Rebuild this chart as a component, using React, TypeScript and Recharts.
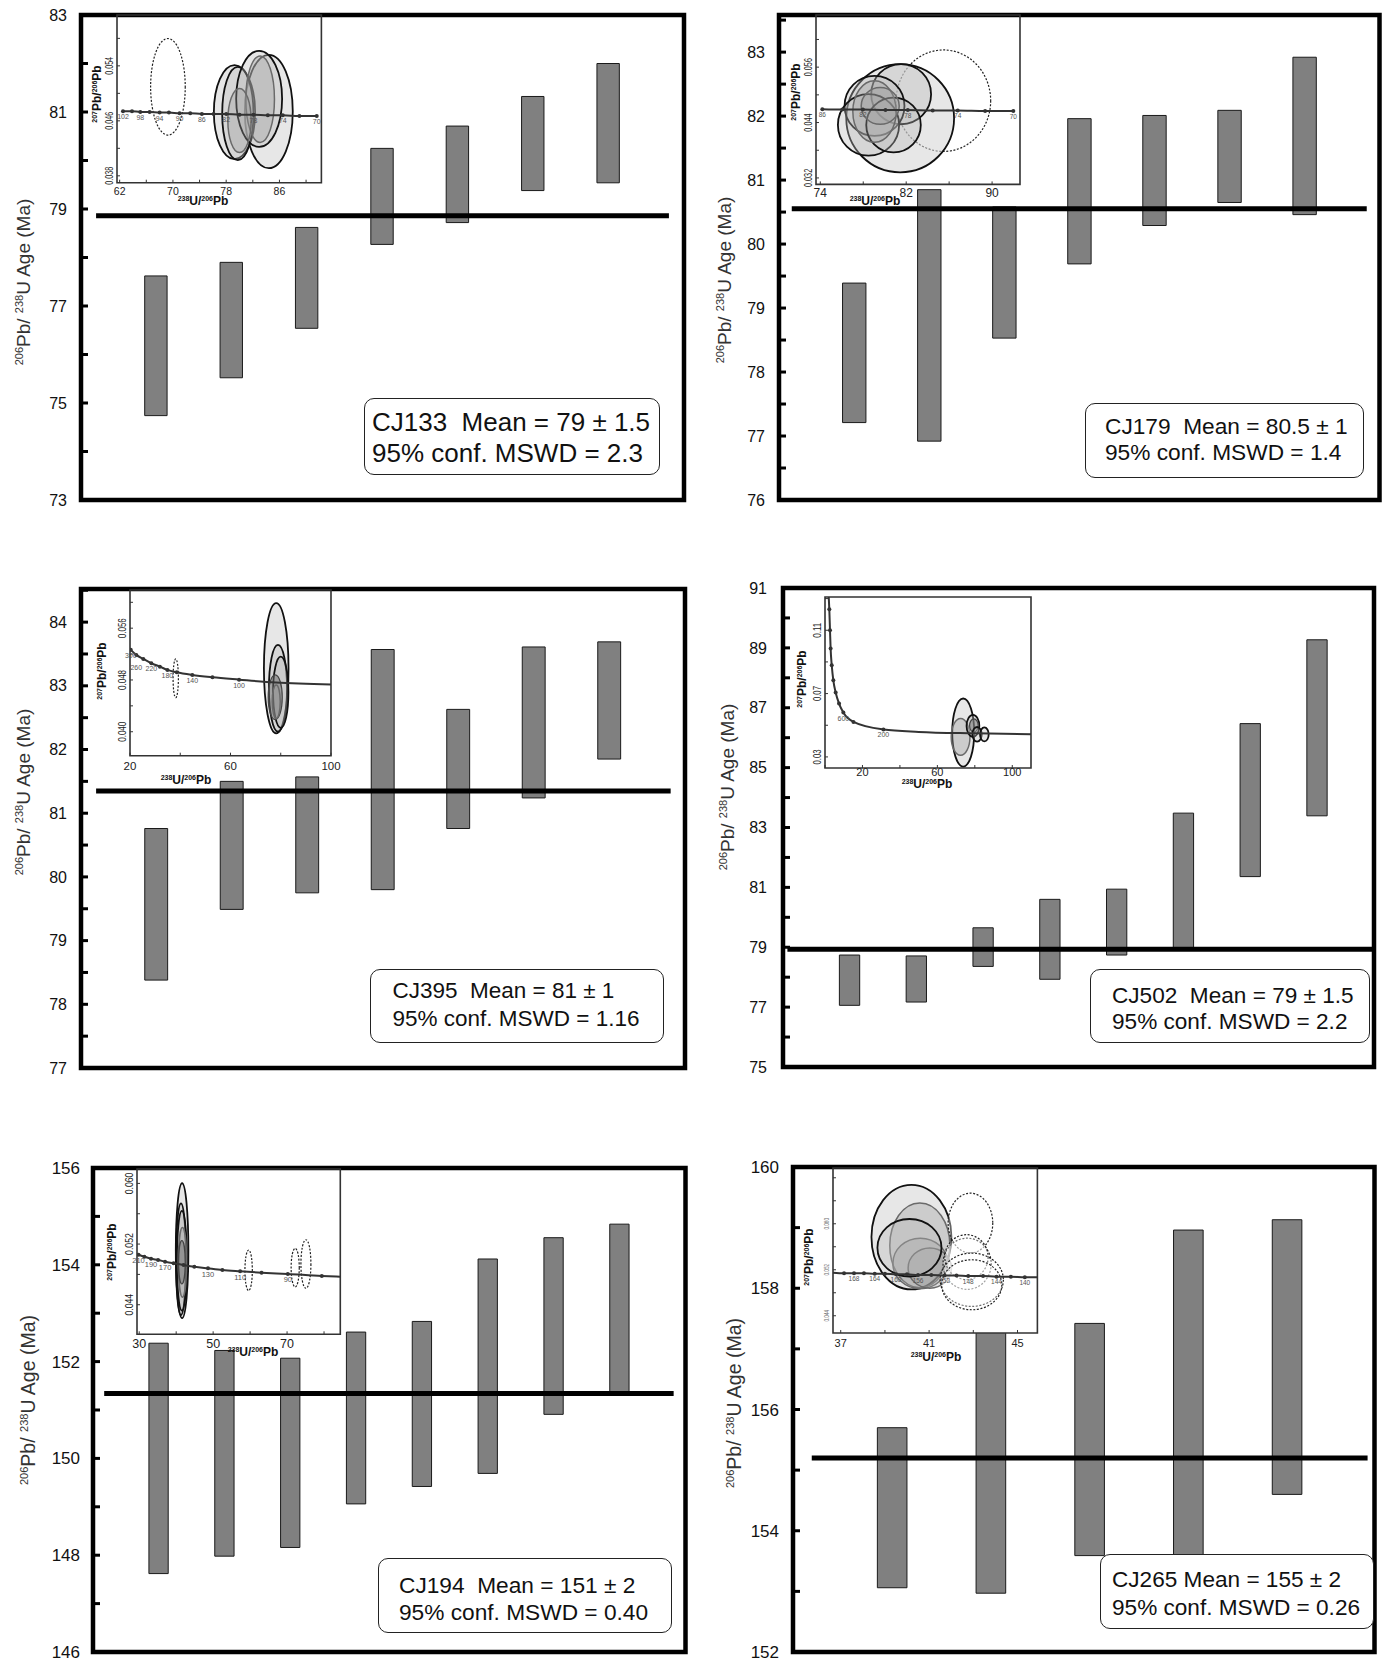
import React from 'react';
import {
  ComposedChart,
  Bar,
  Line,
  XAxis,
  YAxis,
  ReferenceLine,
  ReferenceArea,
  LabelList,
} from 'recharts';

const FONT = '"Liberation Sans", Arial, Helvetica, sans-serif';

// ---------- CJ133 ----------
const CJ133_LOW = [74.74, 75.52, 76.54, 78.27, 78.72, 79.38, 79.54];
const CJ133_HIGH = [77.62, 77.9, 78.62, 80.25, 80.71, 81.32, 82.0];
const CJ133_MEAN = 78.86;
const CJ133_TICKS = [73, 74, 75, 76, 77, 78, 79, 80, 81, 82, 83];
const CJ133_TICK_LABELS = ['73', '', '75', '', '77', '', '79', '', '81', '', '83'];
const CJ133_TEXT = ['CJ133  Mean = 79 ± 1.5', '95% conf. MSWD = 2.3'];

// ---------- CJ179 ----------
const CJ179_LOW = [77.21, 76.92, 78.53, 79.69, 80.29, 80.65, 80.46];
const CJ179_HIGH = [79.39, 80.85, 80.58, 81.96, 82.01, 82.09, 82.92];
const CJ179_MEAN = 80.55;
const CJ179_TICKS = [76, 76.5, 77, 77.5, 78, 78.5, 79, 79.5, 80, 80.5, 81, 81.5, 82, 82.5, 83, 83.5];
const CJ179_TICK_LABELS = ['76', '', '77', '', '78', '', '79', '', '80', '', '81', '', '82', '', '83', ''];
const CJ179_TEXT = ['CJ179  Mean = 80.5 ± 1', '95% conf. MSWD = 1.4'];

// ---------- CJ395 ----------
const CJ395_LOW = [78.38, 79.49, 79.75, 79.8, 80.76, 81.24, 81.85];
const CJ395_HIGH = [80.76, 81.5, 81.57, 83.57, 82.63, 83.61, 83.69];
const CJ395_MEAN = 81.35;
const CJ395_TICKS = [77, 77.5, 78, 78.5, 79, 79.5, 80, 80.5, 81, 81.5, 82, 82.5, 83, 83.5, 84, 84.5];
const CJ395_TICK_LABELS = ['77', '', '78', '', '79', '', '80', '', '81', '', '82', '', '83', '', '84', ''];
const CJ395_TEXT = ['CJ395  Mean = 81 ± 1', '95% conf. MSWD = 1.16'];

// ---------- CJ502 ----------
const CJ502_LOW = [77.06, 77.17, 78.36, 77.93, 78.74, 78.96, 81.36, 83.39];
const CJ502_HIGH = [78.74, 78.71, 79.65, 80.6, 80.94, 83.48, 86.47, 89.27];
const CJ502_MEAN = 78.93;
const CJ502_TICKS = [75, 76, 77, 78, 79, 80, 81, 82, 83, 84, 85, 86, 87, 88, 89, 90, 91];
const CJ502_TICK_LABELS = ['75', '', '77', '', '79', '', '81', '', '83', '', '85', '', '87', '', '89', '', '91'];
const CJ502_TEXT = ['CJ502  Mean = 79 ± 1.5', '95% conf. MSWD = 2.2'];

// ---------- CJ194 ----------
const CJ194_LOW = [147.62, 147.98, 148.16, 149.06, 149.42, 149.69, 150.91, 151.37];
const CJ194_HIGH = [152.38, 152.23, 152.07, 152.61, 152.83, 154.12, 154.56, 154.84];
const CJ194_MEAN = 151.34;
const CJ194_TICKS = [146, 147, 148, 149, 150, 151, 152, 153, 154, 155, 156];
const CJ194_TICK_LABELS = ['146', '', '148', '', '150', '', '152', '', '154', '', '156'];
const CJ194_TEXT = ['CJ194  Mean = 151 ± 2', '95% conf. MSWD = 0.40'];

// ---------- CJ265 ----------
const CJ265_LOW = [153.06, 152.97, 153.59, 153.5, 154.6];
const CJ265_HIGH = [155.7, 158.4, 157.42, 158.96, 159.13];
const CJ265_MEAN = 155.2;
const CJ265_TICKS = [152, 153, 154, 155, 156, 157, 158, 159, 160];
const CJ265_TICK_LABELS = ['152', '', '154', '', '156', '', '158', '', '160'];
const CJ265_TEXT = ['CJ265 Mean = 155 ± 2', '95% conf. MSWD = 0.26'];

// ---------- inset concordia diagrams (238U/206Pb vs 207Pb/206Pb) ----------
// age: '' = dot without label, null = curve only (no dot)
const INS133_X = [62.5, 63.85, 65.1, 66.5, 68.0, 69.4, 71.0, 72.6, 74.35, 76.1, 78.0, 80.0, 82.1, 84.25, 86.5, 89.0, 91.6];
const INS133_Y = [0.0474, 0.0474, 0.0473, 0.0473, 0.0472, 0.0472, 0.0471, 0.0471, 0.047, 0.047, 0.047, 0.0469, 0.0469, 0.0468, 0.0468, 0.0467, 0.0467];
const INS133_AGE = ['102', '', '98', '', '94', '', '90', '', '86', '', '82', '', '78', '', '74', '', '70'];
const INS133_ELL = [
  { x: 69.25, y: 0.05095, sx: 2.6, sy: 0.00703, kind: 'dash' },
  { x: 84.4, y: 0.04736, sx: 3.6, sy: 0.00825, kind: 'light' },
  { x: 79.25, y: 0.04726, sx: 3.1, sy: 0.00684, kind: 'solid' },
  { x: 79.75, y: 0.04707, sx: 2.35, sy: 0.00679, kind: 'solid' },
  { x: 82.95, y: 0.0492, sx: 3.45, sy: 0.00698, kind: 'solid' },
  { x: 83.1, y: 0.04915, sx: 2.15, sy: 0.0063, kind: 'gray' },
  { x: 80.0, y: 0.04605, sx: 1.75, sy: 0.00466, kind: 'gray' },
];
const INS133_XTICKS = [62, 66, 70, 74, 78, 82, 86, 90];
const INS133_XLABELS = ['62', '', '70', '', '78', '', '86', ''];
const INS133_YTICKS = [0.038, 0.042, 0.046, 0.05, 0.054, 0.058];
const INS133_YLABELS = ['0.038', '', '0.046', '', '0.054', ''];

const INS179_X = [74.19, 76.05, 77.97, 80.07, 82.15, 84.47, 86.8, 89.35, 91.98];
const INS179_Y = [0.0469, 0.0468, 0.0468, 0.0467, 0.0467, 0.0466, 0.0466, 0.0465, 0.0465];
const INS179_AGE = ['86', '', '82', '', '78', '', '74', '', '70'];
const INS179_ELL = [
  { x: 85.47, y: 0.04873, sx: 4.4, sy: 0.011, kind: 'dash' },
  { x: 81.44, y: 0.04493, sx: 5.02, sy: 0.01172, kind: 'light' },
  { x: 81.53, y: 0.05014, sx: 2.79, sy: 0.00651, kind: 'solid' },
  { x: 79.05, y: 0.0476, sx: 2.79, sy: 0.00651, kind: 'solid' },
  { x: 78.49, y: 0.04348, sx: 2.85, sy: 0.00666, kind: 'solid' },
  { x: 80.82, y: 0.04348, sx: 2.54, sy: 0.00593, kind: 'solid' },
  { x: 79.05, y: 0.04639, sx: 2.02, sy: 0.00666, kind: 'gray' },
  { x: 79.58, y: 0.0476, sx: 1.77, sy: 0.00398, kind: 'gray' },
];
const INS179_XTICKS = [74, 78, 82, 86, 90];
const INS179_XLABELS = ['74', '', '82', '', '90'];
const INS179_YTICKS = [0.032, 0.038, 0.044, 0.05, 0.056, 0.062];
const INS179_YLABELS = ['0.032', '', '0.044', '', '0.056', ''];

const INS395_X = [20.3, 22.5, 25.3, 28.5, 31.9, 34.9, 38.6, 44.8, 52.8, 63.4, 78, 100];
const INS395_Y = [0.05265, 0.05187, 0.05125, 0.05058, 0.05006, 0.04955, 0.04918, 0.04877, 0.04841, 0.04805, 0.0476, 0.0473];
const INS395_AGE = ['300', '260', '', '220', '', '180', '', '140', '', '100', null, null];
const INS395_ELL = [
  { x: 38.2, y: 0.04826, sx: 1.06, sy: 0.00299, kind: 'dash' },
  { x: 78.2, y: 0.04981, sx: 4.9, sy: 0.01006, kind: 'light' },
  { x: 78.9, y: 0.04671, sx: 3.6, sy: 0.0067, kind: 'solid' },
  { x: 80.0, y: 0.0461, sx: 3.05, sy: 0.0055, kind: 'solid' },
  { x: 77.8, y: 0.04532, sx: 2.8, sy: 0.00346, kind: 'dark' },
  { x: 78.2, y: 0.04464, sx: 1.6, sy: 0.00258, kind: 'gray' },
];
const INS395_XTICKS = [20, 40, 60, 80, 100];
const INS395_XLABELS = ['20', '', '60', '', '100'];
const INS395_YTICKS = [0.04, 0.044, 0.048, 0.052, 0.056, 0.06];
const INS395_YLABELS = ['0.040', '', '0.048', '', '0.056', ''];

const INS502_X = [2.0, 2.3, 2.67, 3.0, 3.6, 4.45, 5.7, 7.5, 9.8, 15.2, 31.2, 50, 80, 110];
const INS502_Y = [0.131, 0.1232, 0.11, 0.0984, 0.0879, 0.0784, 0.0707, 0.0637, 0.058, 0.0521, 0.0473, 0.0458, 0.0449, 0.0443];
const INS502_AGE = [null, '', '', '', '', '', '', '', '600', '', '200', null, null, null];
const INS502_ELL = [
  { x: 73.8, y: 0.0454, sx: 5.87, sy: 0.0215, kind: 'light' },
  { x: 72.4, y: 0.0426, sx: 5.0, sy: 0.0116, kind: 'gray' },
  { x: 79.0, y: 0.0496, sx: 3.4, sy: 0.0069, kind: 'solid' },
  { x: 79.5, y: 0.0498, sx: 2.3, sy: 0.0042, kind: 'dark' },
  { x: 81.2, y: 0.0443, sx: 2.5, sy: 0.0046, kind: 'solid' },
  { x: 85.1, y: 0.0442, sx: 2.3, sy: 0.0044, kind: 'solid' },
];
const INS502_XTICKS = [0, 20, 40, 60, 80, 100];
const INS502_XLABELS = ['', '20', '', '60', '', '100'];
const INS502_YTICKS = [0.03, 0.05, 0.07, 0.09, 0.11, 0.13];
const INS502_YLABELS = ['0.03', '', '0.07', '', '0.11', ''];

const INS194_X = [29.8, 31.4, 33.2, 35.1, 37.0, 39.3, 42.0, 44.9, 48.6, 52.5, 57.3, 63.1, 70.2, 79.4, 84.4];
const INS194_Y = [0.05059, 0.05033, 0.05007, 0.0499, 0.04968, 0.04946, 0.04924, 0.04902, 0.0488, 0.04858, 0.04841, 0.04823, 0.04806, 0.04779, 0.0477];
const INS194_AGE = ['210', '', '190', '', '170', '', '', '', '130', '', '110', '', '90', '', null];
const INS194_ELL = [
  { x: 41.6, y: 0.05112, sx: 1.7, sy: 0.0089, kind: 'light' },
  { x: 41.3, y: 0.05, sx: 1.35, sy: 0.00737, kind: 'solid' },
  { x: 41.54, y: 0.0498, sx: 1.35, sy: 0.00657, kind: 'solid' },
  { x: 41.7, y: 0.0496, sx: 1.08, sy: 0.0046, kind: 'gray' },
  { x: 41.54, y: 0.0496, sx: 0.9, sy: 0.00285, kind: 'dark' },
  { x: 59.6, y: 0.04854, sx: 1.0, sy: 0.00267, kind: 'dash' },
  { x: 72.2, y: 0.04889, sx: 1.1, sy: 0.00254, kind: 'dash' },
  { x: 75.1, y: 0.04937, sx: 1.35, sy: 0.0032, kind: 'dash' },
];
const INS194_XTICKS = [30, 40, 50, 60, 70, 80];
const INS194_XLABELS = ['30', '', '50', '', '70', ''];
const INS194_YTICKS = [0.044, 0.048, 0.052, 0.056, 0.06];
const INS194_YLABELS = ['0.044', '', '0.052', '', '0.060'];

const INS265_X = [36.65, 37.15, 37.6, 38.05, 38.54, 39.0, 39.5, 40.0, 40.5, 41.1, 41.7, 42.24, 42.77, 43.44, 44.05, 44.7, 45.33, 45.9];
const INS265_Y = [0.0515, 0.0514, 0.0514, 0.0514, 0.0513, 0.0513, 0.0512, 0.0512, 0.0511, 0.0511, 0.051, 0.051, 0.0509, 0.0509, 0.0508, 0.0508, 0.0507, 0.0507];
const INS265_AGE = [null, '', '168', '', '164', '', '160', '', '156', '', '152', '', '148', '', '144', '', '140', null];
const INS265_ELL = [
  { x: 40.2, y: 0.05768, sx: 1.81, sy: 0.0091, kind: 'light' },
  { x: 40.58, y: 0.05623, sx: 1.36, sy: 0.00737, kind: 'gray' },
  { x: 40.6, y: 0.0531, sx: 1.24, sy: 0.0044, kind: 'gray' },
  { x: 41.03, y: 0.0523, sx: 0.98, sy: 0.0035, kind: 'gray' },
  { x: 40.11, y: 0.05583, sx: 1.45, sy: 0.005, kind: 'solid' },
  { x: 42.87, y: 0.06012, sx: 1.01, sy: 0.0052, kind: 'dash' },
  { x: 42.72, y: 0.05304, sx: 1.09, sy: 0.00446, kind: 'dash' },
  { x: 42.69, y: 0.0542, sx: 0.98, sy: 0.0039, kind: 'dash' },
  { x: 42.93, y: 0.05026, sx: 1.43, sy: 0.00464, kind: 'dash' },
  { x: 42.93, y: 0.04939, sx: 1.36, sy: 0.00435, kind: 'dash' },
];
const INS265_XTICKS = [37, 39, 41, 43, 45];
const INS265_XLABELS = ['37', '', '41', '', '45'];
const INS265_YTICKS = [0.044, 0.048, 0.052, 0.056, 0.06, 0.064, 0.068];
const INS265_YLABELS = ['0.044', '', '0.052', '', '0.060', '', ''];

const ELL_STYLE: Record<string, any> = {
  light: { fill: '#d4d4d4', fillOpacity: 0.55, stroke: '#111', strokeWidth: 1.8 },
  solid: { fill: '#b8b8b8', fillOpacity: 0.35, stroke: '#111', strokeWidth: 1.8 },
  gray: { fill: '#9a9a9a', fillOpacity: 0.35, stroke: '#6a6a6a', strokeWidth: 1.5 },
  dark: { fill: '#6e6e6e', fillOpacity: 0.5, stroke: '#444', strokeWidth: 1.2 },
  dash: { fill: '#ffffff', fillOpacity: 0.35, stroke: '#222', strokeWidth: 1.2, strokeDasharray: '2 1.6' },
};

const PANELS = [
  {
    id: 'CJ133', low: CJ133_LOW, high: CJ133_HIGH, mean: CJ133_MEAN, ticks: CJ133_TICKS, tickLabels: CJ133_TICK_LABELS, text: CJ133_TEXT,
    frame: { l: 81, r: 684, t: 15, b: 500 }, yDomain: [73, 83], xMax: 8, barW: 22.4, seg: [0.2, 7.8], tickGap: 14, tickFont: 16,
    title: { x: 22.5, y: 282, fs: 19 },
    box: { l: 364, t: 398, w: 296, h: 77, tx: 372, fs: 26, c: [422, 453] },
    inset: {
      cx: INS133_X, cy: INS133_Y, age: INS133_AGE, ell: INS133_ELL, lowIdx: [],
      xTicks: INS133_XTICKS, xLabels: INS133_XLABELS, yTicks: INS133_YTICKS, yLabels: INS133_YLABELS,
      box: { l: 117.3, t: 15.3, r: 321.7, b: 183 }, xDomain: [61.6, 92.3], yDomain: [0.037, 0.0614],
      xFont: 10.5, xMargin: 4.5, yFont: 10, yLen: 18, yFill: '#222', ageFont: 7,
      xTitle: { x: 203, y: 201 }, yTitle: { x: 96.5, y: 94 },
    },
  },
  {
    id: 'CJ179', low: CJ179_LOW, high: CJ179_HIGH, mean: CJ179_MEAN, ticks: CJ179_TICKS, tickLabels: CJ179_TICK_LABELS, text: CJ179_TEXT,
    frame: { l: 778.5, r: 1379, t: 15, b: 500 }, yDomain: [76, 83.58], xMax: 8, barW: 23.4, seg: [0.17, 7.83], tickGap: 14, tickFont: 16,
    title: { x: 724, y: 280, fs: 19 },
    box: { l: 1084.6, t: 403, w: 279.3, h: 75, tx: 1105, fs: 22.7, c: [426, 452] },
    inset: {
      cx: INS179_X, cy: INS179_Y, age: INS179_AGE, ell: INS179_ELL, lowIdx: [],
      xTicks: INS179_XTICKS, xLabels: INS179_XLABELS, yTicks: INS179_YTICKS, yLabels: INS179_YLABELS,
      box: { l: 816, t: 15.3, r: 1020, b: 184.7 }, xDomain: [73.6, 92.6], yDomain: [0.0306, 0.0673],
      xFont: 12, xMargin: 4, yFont: 10, yLen: 18.3, yFill: '#222', ageFont: 6.5,
      xTitle: { x: 875, y: 201 }, yTitle: { x: 796, y: 92 },
    },
  },
  {
    id: 'CJ395', low: CJ395_LOW, high: CJ395_HIGH, mean: CJ395_MEAN, ticks: CJ395_TICKS, tickLabels: CJ395_TICK_LABELS, text: CJ395_TEXT,
    frame: { l: 81, r: 685, t: 589, b: 1068 }, yDomain: [77, 84.52], xMax: 8, barW: 22.9, seg: [0.2, 7.81], tickGap: 14, tickFont: 16,
    title: { x: 22.5, y: 792, fs: 19 },
    box: { l: 370, t: 969, w: 294, h: 74, tx: 392.5, fs: 22.5, c: [991, 1019] },
    inset: {
      cx: INS395_X, cy: INS395_Y, age: INS395_AGE, ell: INS395_ELL, lowIdx: [1],
      xTicks: INS395_XTICKS, xLabels: INS395_XLABELS, yTicks: INS395_YTICKS, yLabels: INS395_YLABELS,
      box: { l: 130, t: 590, r: 331, b: 755.7 }, xDomain: [20, 100], yDomain: [0.0363, 0.0619],
      xFont: 11.5, xMargin: 6, yFont: 10.5, yLen: 20, yFill: '#222', ageFont: 7,
      xTitle: { x: 186, y: 780 }, yTitle: { x: 102, y: 671 },
    },
  },
  {
    id: 'CJ502', low: CJ502_LOW, high: CJ502_HIGH, mean: CJ502_MEAN, ticks: CJ502_TICKS, tickLabels: CJ502_TICK_LABELS, text: CJ502_TEXT,
    frame: { l: 782.5, r: 1373.5, t: 588, b: 1067 }, yDomain: [75, 91], xMax: 8.85, barW: 20.3, seg: [0.066, 8.85], tickGap: 16, tickFont: 16,
    title: { x: 726.5, y: 787, fs: 19 },
    box: { l: 1090, t: 969, w: 280, h: 74, tx: 1112, fs: 22.6, c: [996, 1022] },
    inset: {
      cx: INS502_X, cy: INS502_Y, age: INS502_AGE, ell: INS502_ELL, lowIdx: [],
      xTicks: INS502_XTICKS, xLabels: INS502_XLABELS, yTicks: INS502_YTICKS, yLabels: INS502_YLABELS,
      box: { l: 825, t: 596.7, r: 1031, b: 767.7 }, xDomain: [0, 110], yDomain: [0.023, 0.131],
      xFont: 11, xMargin: 0, yFont: 10.5, yLen: 15, yFill: '#222', ageFont: 7,
      xTitle: { x: 927, y: 784 }, yTitle: { x: 802, y: 679 },
    },
  },
  {
    id: 'CJ194', low: CJ194_LOW, high: CJ194_HIGH, mean: CJ194_MEAN, ticks: CJ194_TICKS, tickLabels: CJ194_TICK_LABELS, text: CJ194_TEXT,
    frame: { l: 93, r: 685.5, t: 1168, b: 1652 }, yDomain: [146, 156], xMax: 9, barW: 19.3, seg: [0.17, 8.82], tickGap: 13, tickFont: 17,
    title: { x: 29, y: 1400, fs: 19.5 },
    box: { l: 378, t: 1558, w: 294, h: 75, tx: 399, fs: 22.7, c: [1585, 1612] },
    inset: {
      cx: INS194_X, cy: INS194_Y, age: INS194_AGE, ell: INS194_ELL, lowIdx: [],
      xTicks: INS194_XTICKS, xLabels: INS194_XLABELS, yTicks: INS194_YTICKS, yLabels: INS194_YLABELS,
      box: { l: 136.7, t: 1169, r: 340, b: 1334.3 }, xDomain: [29.4, 84.4], yDomain: [0.0401, 0.0619],
      xFont: 12.5, xMargin: 5, yFont: 11, yLen: 21.7, yFill: '#222', ageFont: 7.5,
      xTitle: { x: 253, y: 1352 }, yTitle: { x: 111.5, y: 1252 },
    },
  },
  {
    id: 'CJ265', low: CJ265_LOW, high: CJ265_HIGH, mean: CJ265_MEAN, ticks: CJ265_TICKS, tickLabels: CJ265_TICK_LABELS, text: CJ265_TEXT,
    frame: { l: 792.5, r: 1374, t: 1167, b: 1652 }, yDomain: [152, 160], xMax: 5.89, barW: 29.6, seg: [0.19, 5.82], tickGap: 14, tickFont: 17,
    title: { x: 735, y: 1403, fs: 19.5 },
    box: { l: 1100, t: 1554, w: 274, h: 75, tx: 1112, fs: 22.6, c: [1580, 1608] },
    inset: {
      cx: INS265_X, cy: INS265_Y, age: INS265_AGE, ell: INS265_ELL, lowIdx: [],
      xTicks: INS265_XTICKS, xLabels: INS265_XLABELS, yTicks: INS265_YTICKS, yLabels: INS265_YLABELS,
      box: { l: 833.3, t: 1168.3, r: 1037.7, b: 1333.3 }, xDomain: [36.65, 45.9], yDomain: [0.041, 0.0697],
      xFont: 11, xMargin: 6, yFont: 6.5, yLen: 11.7, yFill: '#777', ageFont: 6.5,
      xTitle: { x: 936, y: 1357 }, yTitle: { x: 809, y: 1257 },
    },
  },
];

function labeler(ticks: number[], labels: string[]) {
  return (v: number) => {
    const i = ticks.findIndex((t) => Math.abs(t - v) < 1e-7);
    return i >= 0 ? labels[i] : '';
  };
}

function RotTick(props: any) {
  const { x, y, payload, fmtFn, lblSize, lblLen, lblFill } = props;
  const txt = fmtFn(payload.value);
  if (!txt) return null;
  return (
    <text
      x={x}
      y={y}
      transform={`rotate(-90 ${x} ${y})`}
      textAnchor="middle"
      fontSize={lblSize}
      fill={lblFill}
      fontFamily={FONT}
      textLength={lblLen}
      lengthAdjust="spacingAndGlyphs"
    >
      {txt}
    </text>
  );
}

function ellipseShape(kind: string) {
  const st = ELL_STYLE[kind];
  return (p: any) => {
    if (p == null || p.x == null || p.width == null) return <g />;
    return (
      <ellipse
        cx={p.x + p.width / 2}
        cy={p.y + p.height / 2}
        rx={Math.abs(p.width) / 2}
        ry={Math.abs(p.height) / 2}
        clipPath={p.clipPath}
        {...st}
      />
    );
  };
}

const concDot = (props: any) => {
  const { cx, cy, payload, index } = props;
  if (!payload || payload.edge || cx == null) return <g key={`d${index}`} />;
  return <circle key={`d${index}`} cx={cx} cy={cy} r={2} fill="#333" />;
};

function Sup({ children, size }: { children: React.ReactNode; size: number }) {
  return <span style={{ fontSize: size, position: 'relative', top: -size * 0.6 }}>{children}</span>;
}

function MainChart({ p }: { p: any }) {
  const YW = 70;
  const M = 14;
  const MR = 8;
  const f = p.frame;
  const w = f.r - f.l;
  const h = f.b - f.t;
  const rows = p.low.map((lo: number, i: number) => ({ x: i + 1, range: [lo, p.high[i]] }));
  return (
    <div style={{ position: 'absolute', left: f.l - YW, top: f.t - M }}>
      <ComposedChart width={w + YW + MR} height={h + 2 * M} data={rows} margin={{ top: M, right: MR, bottom: M, left: 0 }}>
        <XAxis type="number" dataKey="x" domain={[0, p.xMax]} hide allowDataOverflow />
        <YAxis
          type="number"
          domain={p.yDomain}
          ticks={p.ticks}
          interval={0}
          allowDataOverflow
          width={YW}
          axisLine={false}
          tickSize={-7}
          tickMargin={p.tickGap + 7}
          tickLine={{ stroke: '#000', strokeWidth: 3 }}
          tick={{ fontSize: p.tickFont, fill: '#111', fontFamily: FONT }}
          tickFormatter={labeler(p.ticks, p.tickLabels)}
        />
        <Bar dataKey="range" barSize={p.barW} fill="#808080" stroke="#1a1a1a" strokeWidth={1} isAnimationActive={false} />
        <ReferenceLine
          segment={[{ x: p.seg[0], y: p.mean }, { x: p.seg[1], y: p.mean }]}
          stroke="#000"
          strokeWidth={5}
          ifOverflow="visible"
        />
        <ReferenceArea
          x1={0}
          x2={p.xMax}
          y1={p.yDomain[0]}
          y2={p.yDomain[1]}
          fill="none"
          stroke="#000"
          strokeWidth={4.5}
          ifOverflow="visible"
        />
      </ComposedChart>
    </div>
  );
}

function InsetChart({ s, frameTop }: { s: any; frameTop: number }) {
  const L = 24;
  const T = 3;
  const R = 18;
  const B = 24;
  const w = s.box.r - s.box.l;
  const h = s.box.b - s.box.t;
  const rows = s.cx.map((x: number, i: number) => {
    const lbl = s.age[i] == null ? '' : s.age[i];
    const low = s.lowIdx.includes(i);
    return {
      x,
      y: s.cy[i],
      age: low ? '' : lbl,
      ageLow: low ? lbl : '',
      edge: s.age[i] === null,
    };
  });
  const bgTop = Math.max(s.box.t, frameTop + 2.5);
  return (
    <>
      <div
        style={{
          position: 'absolute',
          left: s.box.l,
          top: bgTop,
          width: w,
          height: s.box.b - bgTop,
          background: '#fff',
        }}
      />
      <div style={{ position: 'absolute', left: s.box.l - L, top: s.box.t - T }}>
        <ComposedChart width={w + L + R} height={h + T + B} data={rows} margin={{ top: T, right: R, bottom: 0, left: 0 }}>
          <XAxis
            type="number"
            dataKey="x"
            domain={s.xDomain}
            ticks={s.xTicks}
            interval={0}
            allowDataOverflow
            height={B}
            axisLine={false}
            tickSize={-3}
            tickMargin={s.xMargin + 3}
            tickLine={{ stroke: '#333', strokeWidth: 1 }}
            tick={{ fontSize: s.xFont, fill: '#222', fontFamily: FONT }}
            tickFormatter={labeler(s.xTicks, s.xLabels)}
          />
          <YAxis
            type="number"
            domain={s.yDomain}
            ticks={s.yTicks}
            interval={0}
            allowDataOverflow
            width={L}
            axisLine={false}
            tickSize={-3}
            tickMargin={7}
            tickLine={{ stroke: '#333', strokeWidth: 1 }}
            tick={<RotTick fmtFn={labeler(s.yTicks, s.yLabels)} lblSize={s.yFont} lblLen={s.yLen} lblFill={s.yFill} />}
          />
          <Line dataKey="y" type="monotone" stroke="#333" strokeWidth={2} dot={concDot} isAnimationActive={false}>
            <LabelList dataKey="age" position="bottom" offset={3} fontSize={s.ageFont} fill="#555" fontFamily={FONT} />
            <LabelList dataKey="ageLow" position="bottom" offset={10} fontSize={s.ageFont} fill="#555" fontFamily={FONT} />
          </Line>
          {s.ell.map((e: any, i: number) => (
            <ReferenceArea
              key={i}
              x1={e.x - e.sx}
              x2={e.x + e.sx}
              y1={e.y - e.sy}
              y2={e.y + e.sy}
              ifOverflow="hidden"
              shape={ellipseShape(e.kind)}
            />
          ))}
          <ReferenceArea
            x1={s.xDomain[0]}
            x2={s.xDomain[1]}
            y1={s.yDomain[0]}
            y2={s.yDomain[1]}
            fill="none"
            stroke="#333"
            strokeWidth={1.6}
            ifOverflow="visible"
          />
        </ComposedChart>
      </div>
      <div
        style={{
          position: 'absolute',
          left: s.xTitle.x,
          top: s.xTitle.y,
          transform: 'translate(-50%, -50%)',
          whiteSpace: 'nowrap',
          fontFamily: FONT,
          fontWeight: 'bold',
          fontSize: 12,
          lineHeight: 1,
          color: '#111',
        }}
      >
        <Sup size={7}>238</Sup>U/<Sup size={7}>206</Sup>Pb
      </div>
      <div
        style={{
          position: 'absolute',
          left: s.yTitle.x,
          top: s.yTitle.y,
          transform: 'translate(-50%, -50%) rotate(-90deg)',
          whiteSpace: 'nowrap',
          fontFamily: FONT,
          fontWeight: 'bold',
          fontSize: 12,
          lineHeight: 1,
          color: '#111',
        }}
      >
        <Sup size={7}>207</Sup>Pb/<Sup size={7}>206</Sup>Pb
      </div>
    </>
  );
}

function Panel({ p }: { p: any }) {
  const b = p.box;
  return (
    <>
      <MainChart p={p} />
      <div
        style={{
          position: 'absolute',
          left: p.title.x,
          top: p.title.y,
          transform: 'translate(-50%, -50%) rotate(-90deg)',
          whiteSpace: 'nowrap',
          fontFamily: FONT,
          fontSize: p.title.fs,
          lineHeight: 1,
          color: '#333',
        }}
      >
        <Sup size={11}>206</Sup>Pb/ <Sup size={11}>238</Sup>U Age (Ma)
      </div>
      <InsetChart s={p.inset} frameTop={p.frame.t} />
      <div
        style={{
          position: 'absolute',
          left: b.l,
          top: b.t,
          width: b.w,
          height: b.h,
          boxSizing: 'border-box',
          border: '1.5px solid #222',
          borderRadius: 10,
          background: '#fff',
        }}
      />
      {p.text.map((line: string, i: number) => (
        <div
          key={i}
          style={{
            position: 'absolute',
            left: b.tx,
            top: b.c[i] - b.fs / 2,
            fontFamily: FONT,
            fontSize: b.fs,
            lineHeight: `${b.fs}px`,
            whiteSpace: 'pre',
            color: '#111',
          }}
        >
          {line}
        </div>
      ))}
    </>
  );
}

export default function App() {
  return (
    <div
      style={{
        position: 'absolute',
        left: 0,
        top: 0,
        width: 1388,
        height: 1662,
        background: '#fff',
        overflow: 'hidden',
        fontFamily: FONT,
      }}
    >
      {PANELS.map((p) => (
        <Panel key={p.id} p={p} />
      ))}
    </div>
  );
}
